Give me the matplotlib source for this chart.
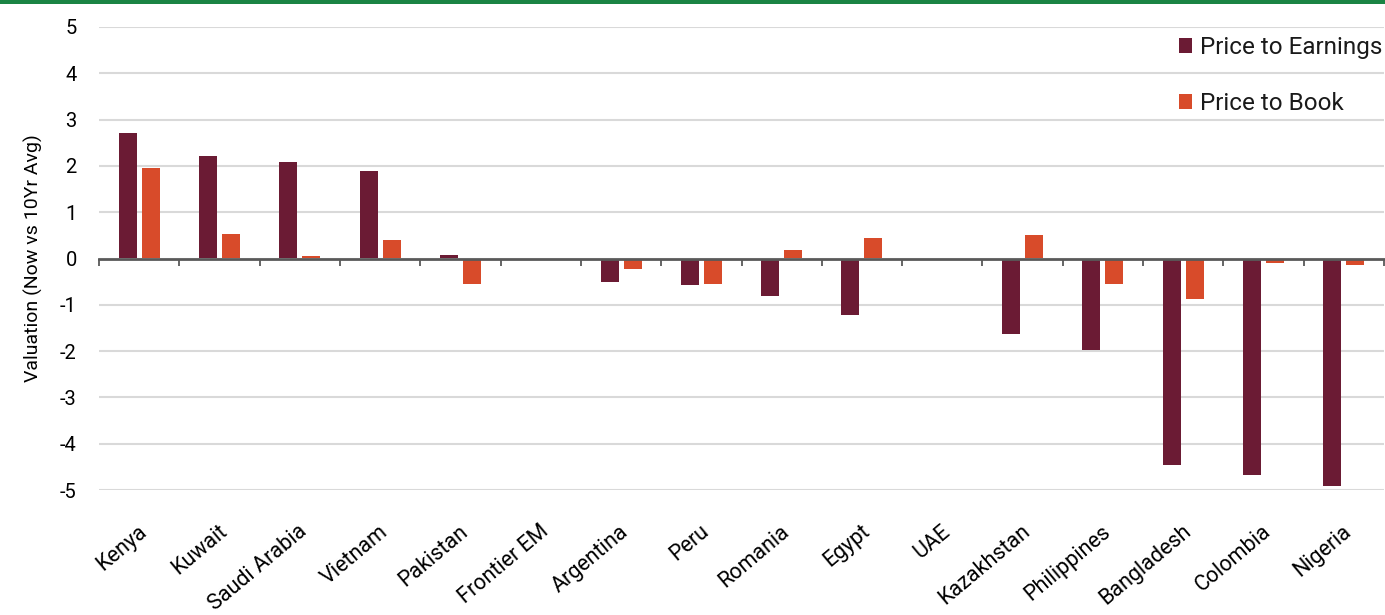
import numpy as np
import matplotlib
matplotlib.use("Agg")
import matplotlib.pyplot as plt
from matplotlib.patches import Rectangle
from matplotlib.transforms import ScaledTranslation

# data
countries = ["Kenya", "Kuwait", "Saudi Arabia", "Vietnam", "Pakistan", "Frontier EM",
             "Argentina", "Peru", "Romania", "Egypt", "UAE", "Kazakhstan",
             "Philippines", "Bangladesh", "Colombia", "Nigeria"]
price_to_earnings = [2.72, 2.21, 2.08, 1.88, 0.07, 0.0, -0.51, -0.57, -0.81, -1.23,
                     0.0, -1.64, -1.97, -4.45, -4.68, -4.91]
price_to_book = [1.96, 0.52, 0.06, 0.40, -0.54, 0.0, -0.23, -0.54, 0.18, 0.45,
                 0.0, 0.51, -0.54, -0.87, -0.10, -0.13]
y_ticks = [-5, -4, -3, -2, -1, 0, 1, 2, 3, 4, 5]

PE_COLOR = "#6b1b34"
PB_COLOR = "#d84b2a"
GRID = "#d9d9d9"
AXIS = "#595959"

plt.rcParams["font.family"] = ["Roboto", "DejaVu Sans"]
plt.rcParams["text.color"] = "#1a1a1a"
plt.rcParams["axes.unicode_minus"] = False

W, H = 1385, 615
fig = plt.figure(figsize=(W / 100, H / 100), dpi=100)
ax = fig.add_axes([99 / W, 1 - 490 / H, 1285 / W, 463 / H])

# green rule across the top
fig.add_artist(Rectangle((0, 1 - 4 / H), 1, 4 / H, transform=fig.transFigure,
                         color="#1a8444", lw=0))

x = np.arange(len(countries))
w = 0.224
ax.bar(x - 0.143, price_to_earnings, w, color=PE_COLOR, label="Price to Earnings", zorder=3)
ax.bar(x + 0.143, price_to_book, w, color=PB_COLOR, label="Price to Book", zorder=3)

ax.set_xlim(-0.5, len(countries) - 0.5)
ax.set_ylim(y_ticks[0], y_ticks[-1])
ax.set_yticks(y_ticks)
ax.yaxis.grid(True, color=GRID, lw=1.5, zorder=0)
ax.tick_params(axis="y", length=0, pad=16, labelsize=14.5)
for s in ax.spines.values():
    s.set_visible(False)

# category labels below the plot
ax.set_xticks(x)
ax.set_xticklabels(countries, rotation=40, ha="right", va="center",
                   rotation_mode="anchor", fontsize=15.5)
ax.tick_params(axis="x", length=0, pad=0)
off = ScaledTranslation(0.05, -0.39, fig.dpi_scale_trans)
for lab in ax.get_xticklabels():
    lab.set_transform(lab.get_transform() + off)

# zero line with boundary ticks
ymin, ymax = ax.get_ylim()
zero = ax.secondary_xaxis((0 - ymin) / (ymax - ymin))
zero.set_alignment("bottom")
zero.set_xticks(np.arange(len(countries) + 1) - 0.5)
zero.tick_params(length=5, width=1.3, color=AXIS, labelbottom=False, direction="out")
zero.spines["bottom"].set_color(AXIS)
zero.spines["bottom"].set_linewidth(2)
zero.set_zorder(4)

ax.set_ylabel("Valuation (Now vs 10Yr Avg)", fontsize=14, labelpad=12)

ax.legend(loc="upper right", bbox_to_anchor=(1 - 3 / W, 1 - 36 / H), bbox_transform=fig.transFigure,
          frameon=False, fontsize=17.5, borderpad=0, borderaxespad=0, handlelength=0.55,
          handleheight=0.55, handletextpad=0.3, labelspacing=1.35)

fig.savefig("out.png", dpi=100)
